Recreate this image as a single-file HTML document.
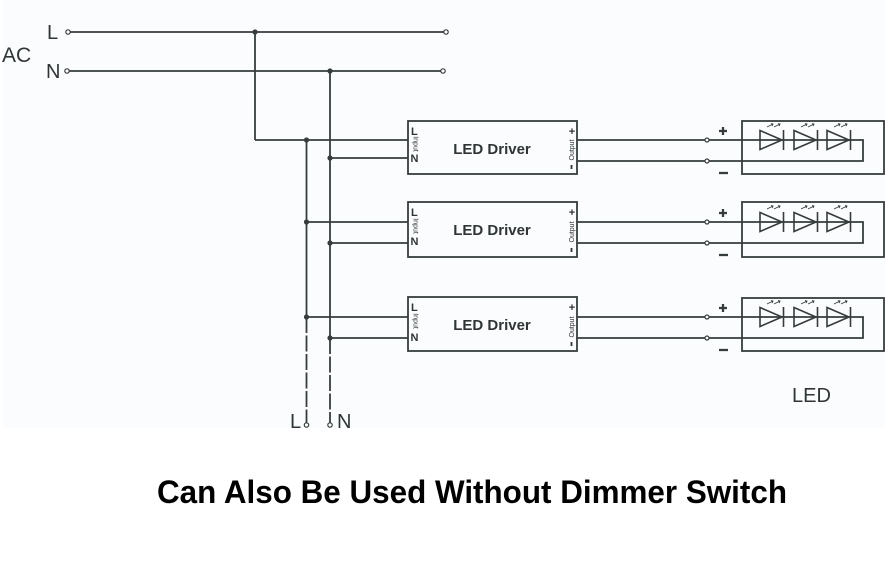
<!DOCTYPE html>
<html><head><meta charset="utf-8"><style>
html,body{margin:0;padding:0;background:#fff;}
svg{display:block;}
</style></head><body>
<svg width="892" height="568" viewBox="0 0 892 568" xmlns="http://www.w3.org/2000/svg">
<rect x="0" y="0" width="892" height="568" fill="#ffffff"/>
<rect x="3" y="0" width="882" height="428" fill="#fbfcfe"/>
<g stroke="#363c3c" stroke-width="1.8" fill="none">
  <line x1="70" y1="32" x2="444" y2="32"/>
  <line x1="69" y1="71" x2="441" y2="71"/>
  <line x1="255" y1="32" x2="255" y2="140"/>
  <line x1="255" y1="140" x2="408" y2="140"/>
  <line x1="306.5" y1="140" x2="306.5" y2="317"/>
  <line x1="330" y1="71" x2="330" y2="338"/>
  <line x1="306.5" y1="317" x2="306.5" y2="423" stroke-dasharray="16 2.5"/>
  <line x1="330" y1="338" x2="330" y2="423" stroke-dasharray="16 2.5"/>
  <line x1="330" y1="158" x2="408" y2="158"/>
  <line x1="306.5" y1="222" x2="408" y2="222"/>
  <line x1="330" y1="243" x2="408" y2="243"/>
  <line x1="306.5" y1="317" x2="408" y2="317"/>
  <line x1="330" y1="338" x2="408" y2="338"/>
  <rect x="408" y="121" width="169" height="53"/>
  <rect x="408" y="202" width="169" height="55"/>
  <rect x="408" y="297" width="169" height="54"/>
  <rect x="742" y="121" width="142" height="53"/>
  <rect x="742" y="202" width="142" height="55"/>
  <rect x="742" y="298" width="142" height="53"/>
  <polyline points="577,140 863,140 863,161 577,161"/>
  <polyline points="577,222 863,222 863,243 577,243"/>
  <polyline points="577,317 863,317 863,338 577,338"/>
</g>
<g stroke="#363c3c" stroke-width="1.2" fill="#fff">
  <circle cx="68" cy="32" r="2.2"/>
  <circle cx="67" cy="71" r="2.2"/>
  <circle cx="446" cy="32" r="2.2"/>
  <circle cx="443" cy="71" r="2.2"/>
  <circle cx="306.5" cy="425" r="2.2"/>
  <circle cx="330" cy="425" r="2.2"/>
  <circle cx="707" cy="140" r="2"/>
  <circle cx="707" cy="161" r="2"/>
  <circle cx="707" cy="222" r="2"/>
  <circle cx="707" cy="243" r="2"/>
  <circle cx="707" cy="317" r="2"/>
  <circle cx="707" cy="338" r="2"/>
</g>
<g fill="#363c3c">
  <circle cx="255" cy="32" r="2.6"/>
  <circle cx="330" cy="71" r="2.6"/>
  <circle cx="306.5" cy="140" r="2.6"/>
  <circle cx="330" cy="158" r="2.6"/>
  <circle cx="306.5" cy="222" r="2.6"/>
  <circle cx="330" cy="243" r="2.6"/>
  <circle cx="306.5" cy="317" r="2.6"/>
  <circle cx="330" cy="338" r="2.6"/>
</g>
<g stroke="#363c3c" stroke-width="1.6" fill="none">
  <g id="d1">
    <polygon points="760,130.5 760,149.5 782,140"/>
    <line x1="783.5" y1="130" x2="783.5" y2="150"/>
    <polygon points="794,130.5 794,149.5 816,140"/>
    <line x1="817.5" y1="130" x2="817.5" y2="150"/>
    <polygon points="827,130.5 827,149.5 849,140"/>
    <line x1="850.5" y1="130" x2="850.5" y2="150"/>
  </g>
  <use href="#d1" transform="translate(0,82)"/>
  <use href="#d1" transform="translate(0,177)"/>
</g>
<g stroke="#363c3c" stroke-width="0.9" fill="none">
  <g id="ar">
    <path d="M767,127 L773,124 M771,123.5 L773,124 L772,126"/>
    <path d="M774,127 L780,124 M778,123.5 L780,124 L779,126"/>
    <path d="M801,127 L807,124 M805,123.5 L807,124 L806,126"/>
    <path d="M808,127 L814,124 M812,123.5 L814,124 L813,126"/>
    <path d="M834,127 L840,124 M838,123.5 L840,124 L839,126"/>
    <path d="M841,127 L847,124 M845,123.5 L847,124 L846,126"/>
  </g>
  <use href="#ar" transform="translate(0,82)"/>
  <use href="#ar" transform="translate(0,177)"/>
</g>
<g stroke="#363c3c" stroke-width="2.3">
  <line x1="719" y1="131" x2="727" y2="131"/><line x1="723" y1="127" x2="723" y2="135"/>
  <line x1="719" y1="173" x2="728" y2="173"/>
  <line x1="719" y1="213" x2="727" y2="213"/><line x1="723" y1="209" x2="723" y2="217"/>
  <line x1="719" y1="255" x2="728" y2="255"/>
  <line x1="719" y1="308" x2="727" y2="308"/><line x1="723" y1="304" x2="723" y2="312"/>
  <line x1="719" y1="350" x2="728" y2="350"/>
</g>
<g font-family="Liberation Sans, sans-serif" fill="#2f3535">
  <g font-weight="bold" font-size="11">
    <text x="411" y="135">L</text><text x="410.5" y="162">N</text>
    <text x="411" y="216">L</text><text x="410.5" y="245">N</text>
    <text x="411" y="311">L</text><text x="410.5" y="341">N</text>
  </g>
  <g font-size="7">
    <text transform="translate(413.5,144) rotate(90)" text-anchor="middle">Input</text>
    <text transform="translate(413.5,226) rotate(90)" text-anchor="middle">Input</text>
    <text transform="translate(413.5,321) rotate(90)" text-anchor="middle">Input</text>
    <text transform="translate(574,150) rotate(-90)" text-anchor="middle">Output</text>
    <text transform="translate(574,232) rotate(-90)" text-anchor="middle">Output</text>
    <text transform="translate(574,327) rotate(-90)" text-anchor="middle">Output</text>
  </g>
  <g font-weight="bold" font-size="11">
    <text x="572" y="135" text-anchor="middle">+</text>
    <text x="572" y="216" text-anchor="middle">+</text>
    <text x="572" y="311" text-anchor="middle">+</text>
  </g>
</g>
<g stroke="#2f3535" stroke-width="1.8">
  <line x1="571.5" y1="165" x2="571.5" y2="169"/>
  <line x1="571.5" y1="248" x2="571.5" y2="252"/>
  <line x1="571.5" y1="342" x2="571.5" y2="346"/>
</g>
<g font-family="Liberation Sans, sans-serif" font-weight="bold" font-size="15" fill="#2f3535" text-anchor="middle">
  <text x="492" y="154">LED Driver</text>
  <text x="492" y="235">LED Driver</text>
  <text x="492" y="330">LED Driver</text>
</g>
<g font-family="Liberation Sans, sans-serif" font-size="20" fill="#2f3535">
  <text x="2" y="62" font-size="21">AC</text>
  <text x="47" y="39">L</text>
  <text x="46" y="78">N</text>
  <text x="290" y="428">L</text>
  <text x="337" y="428">N</text>
  <text x="792" y="402">LED</text>
</g>
<text x="157" y="503" font-family="Liberation Sans, sans-serif" font-weight="bold" font-size="32" fill="#000" textLength="630" lengthAdjust="spacingAndGlyphs">Can Also Be Used Without Dimmer Switch</text>
</svg>
</body></html>
